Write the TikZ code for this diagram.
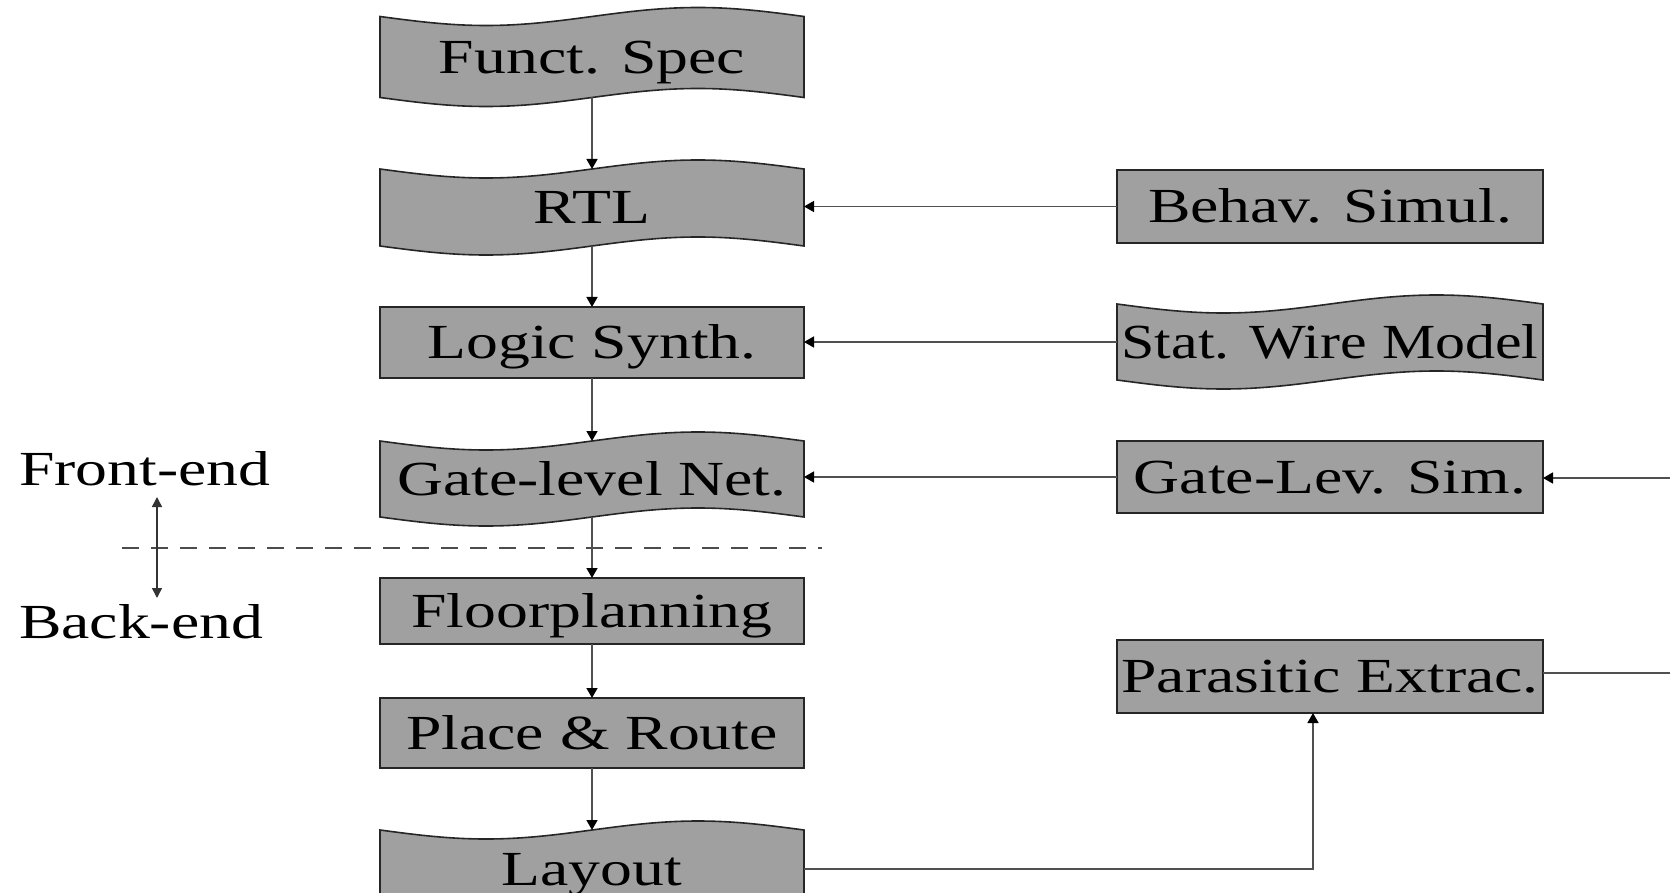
\documentclass[tikz,border=0pt]{standalone}
\usepackage{fontspec}
\setmainfont{Liberation Serif}[FakeStretch=1.3]
\usetikzlibrary{arrows.meta,calc}
\definecolor{boxgray}{RGB}{160,160,160}
\definecolor{linegray}{RGB}{80,80,80}
\newcommand\tapeshape[4]{%
  \pgfmathsetmacro\qa{#1+(#3-#1)/4}%
  \pgfmathsetmacro\qb{#1+(#3-#1)/2}%
  \pgfmathsetmacro\qc{#1+3*(#3-#1)/4}%
  \pgfmathsetmacro\ta{#2+9}\pgfmathsetmacro\tb{#2-9}%
  \pgfmathsetmacro\ba{#4+9}\pgfmathsetmacro\bb{#4-9}%
  \path[boxline] (#1,#2) sin (\qa,\ta) cos (\qb,#2) sin (\qc,\tb) cos (#3,#2)
     -- (#3,#4) sin (\qc,\bb) cos (\qb,#4) sin (\qa,\ba) cos (#1,#4) -- cycle;%
}
\begin{document}
\begin{tikzpicture}[x=0.5pt,y=-0.5pt,
  every node/.style={font=\fontsize{24.5}{29}\selectfont, inner sep=0pt, outer sep=0pt},
  boxline/.style={draw=black!85, line width=0.8pt, fill=boxgray},
  rbox/.style={boxline, rectangle, text height=16.2pt, text depth=0pt},
  tbox/.style={rectangle, draw=none, text height=16.2pt, text depth=0pt},
  lw/.style={minimum width=212pt},
  rw/.style={minimum width=213pt},
  arr/.style={draw=linegray, line width=0.75pt, -{Triangle[length=5pt,width=5.5pt,color=black]}},
  conn/.style={draw=linegray, line width=0.75pt},
  arr2/.style={draw=black!80, line width=0.75pt, {Triangle[length=5pt,width=5pt]}-{Triangle[length=5pt,width=5pt]}},
  dline/.style={draw=black!70, line width=1.3pt, dash pattern=on 8.5pt off 6pt}
]
\useasboundingbox (0,0) rectangle (1670,893);

% left column
\tapeshape{380}{16.5}{804}{97.5}
\node[tbox,lw,minimum height=40.5pt] (fspec) at (592,57) {Funct. Spec};
\tapeshape{380}{169}{804}{246}
\node[tbox,lw,minimum height=38.5pt] (rtl) at (592,207.5) {RTL};
\node[rbox,lw,minimum height=35.5pt] (logic) at (592,342.5) {Logic Synth.};
\tapeshape{380}{441}{804}{517}
\node[tbox,lw,minimum height=38pt] (gnet) at (592,479) {Gate-level Net.};
\node[rbox,lw,minimum height=33pt] (floor) at (592,611) {Floorplanning};
\node[rbox,lw,minimum height=35pt] (pr) at (592,733) {Place \& Route};
\tapeshape{380}{830}{804}{908}
\node[tbox,lw,minimum height=39pt] (layout) at (592,869) {Layout};

% right column
\node[rbox,rw,minimum height=36.5pt] (behav) at (1330,206.5) {Behav. Simul.};
\tapeshape{1117}{304}{1543}{380}
\node[tbox,rw,minimum height=38pt] (stat) at (1330,342) {\scalebox{0.94}[1]{Stat. Wire Model}};
\node[rbox,rw,minimum height=36pt] (gsim) at (1330,477) {Gate-Lev. Sim.};
\node[rbox,rw,minimum height=36.5pt] (para) at (1330,676.5) {Parasitic Extrac.};

% labels
\node[anchor=base west] (front) at (19,485) {Front-end};
\node[anchor=base west] (back) at (19,638) {Back-end};
\coordinate (fe) at (157,497);
\coordinate (be) at (157,598);
\coordinate (dl) at (122,548);
\coordinate (dr) at (822,548);
\coordinate (rin) at (1670,478);
\coordinate (rout) at (1670,673);

% dashed divider
\draw[dline] (dl) -- (dr);
\draw[arr2] (fe) -- (be);

% vertical flow
\draw[arr] (fspec.south) -- (rtl.north);
\draw[arr] (rtl.south) -- (logic.north);
\draw[arr] (logic.south) -- (gnet.north);
\draw[arr] (gnet.south) -- (floor.north);
\draw[arr] (floor.south) -- (pr.north);
\draw[arr] (pr.south) -- (layout.north);

% horizontal inputs
\draw[arr] (behav.west) -- (behav.west -| rtl.east);
\draw[arr] (stat.west) -- (stat.west -| logic.east);
\draw[arr] (gsim.west) -- (gsim.west -| gnet.east);
\draw[arr] (rin) -- (rin -| gsim.east);
\draw[conn] (para.east |- rout) -- (rout);
\draw[arr] (layout.east) -| ([xshift=-8.5pt]para.south);
\end{tikzpicture}
\end{document}
